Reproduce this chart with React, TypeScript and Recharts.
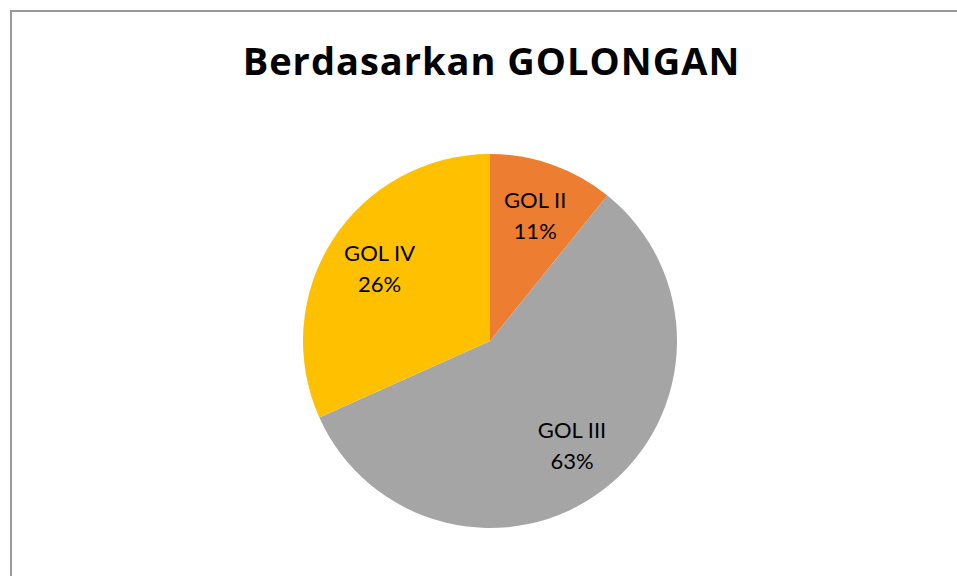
import React from 'react';
import { PieChart, Pie, Cell } from 'recharts';

const categories = ['GOL II', 'GOL III', 'GOL IV'];
const shares = [10.8, 57.5, 31.7];
const percentLabels = ['11%', '63%', '26%'];
const colors = ['#ED7D31', '#A5A5A5', '#FFC000'];

const data = categories.map((name, i) => ({ name, value: shares[i], pct: percentLabels[i] }));

const RAD = Math.PI / 180;

const renderLabel = (props: any) => {
  const { cx, cy, midAngle, outerRadius, index } = props;
  const r = outerRadius * 0.71;
  const x = cx + r * Math.cos(-midAngle * RAD) + 1;
  const y = cy + r * Math.sin(-midAngle * RAD);
  return (
    <text x={x} y={y} textAnchor="middle" fill="#000" fontFamily="Lato, sans-serif" fontSize={22}>
      <tspan x={x} dy={-8}>{categories[index]}</tspan>
      <tspan x={x} dy={31}>{percentLabels[index]}</tspan>
    </text>
  );
};

const App: React.FC = () => {
  return (
    <div style={{ position: 'absolute', left: 0, top: 0, width: 957, height: 576, overflow: 'hidden', background: '#fff' }}>
      <div
        style={{
          position: 'absolute',
          left: 10,
          top: 10,
          width: 1000,
          height: 700,
          borderLeft: '2px solid #999',
          borderTop: '2px solid #999',
        }}
      />
      <div
        style={{
          position: 'absolute',
          left: 0,
          top: 35,
          width: 983,
          textAlign: 'center',
          fontFamily: '"Open Sans", sans-serif',
          fontWeight: 'bold',
          fontSize: 38,
          letterSpacing: 1,
          lineHeight: '50px',
          color: '#000',
        }}
      >
        Berdasarkan GOLONGAN
      </div>
      <div style={{ position: 'absolute', left: 0, top: 0 }}>
        <PieChart width={957} height={576} margin={{ top: 0, right: 0, bottom: 0, left: 0 }}>
          <Pie
            data={data}
            dataKey="value"
            nameKey="name"
            cx={490}
            cy={341}
            outerRadius={187}
            startAngle={90}
            endAngle={-270}
            stroke="none"
            label={renderLabel}
            labelLine={false}
            isAnimationActive={false}
          >
            {data.map((d, i) => (
              <Cell key={d.name} fill={colors[i]} />
            ))}
          </Pie>
        </PieChart>
      </div>
    </div>
  );
};

export default App;
